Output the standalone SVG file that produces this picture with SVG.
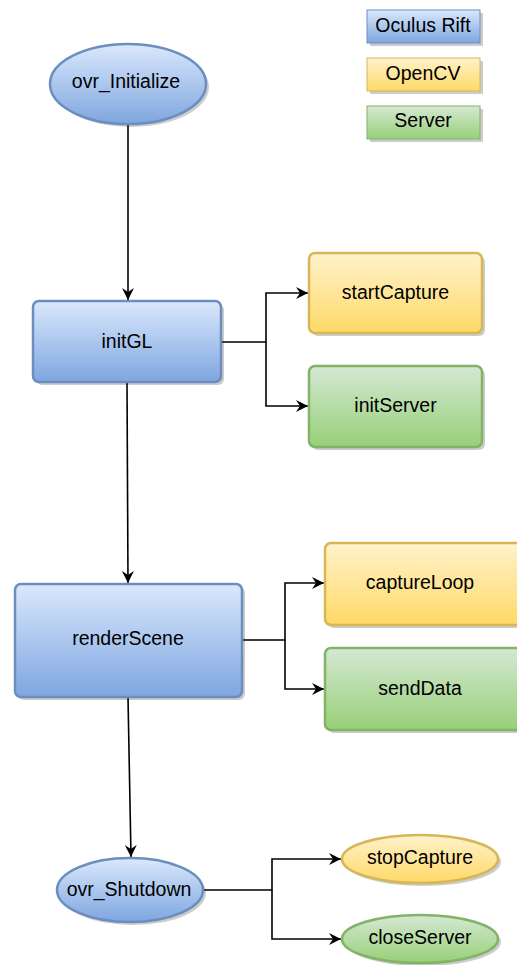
<svg xmlns="http://www.w3.org/2000/svg" width="517" height="965" viewBox="0 0 517 965">
  <defs>
    <linearGradient id="gBlue" x1="0" y1="0" x2="0" y2="1">
      <stop offset="0" stop-color="#dae8fc"/>
      <stop offset="1" stop-color="#7ea6e0"/>
    </linearGradient>
    <linearGradient id="gYellow" x1="0" y1="0" x2="0" y2="1">
      <stop offset="0" stop-color="#fff2cc"/>
      <stop offset="1" stop-color="#ffd966"/>
    </linearGradient>
    <linearGradient id="gGreen" x1="0" y1="0" x2="0" y2="1">
      <stop offset="0" stop-color="#d5e8d4"/>
      <stop offset="1" stop-color="#97d077"/>
    </linearGradient>
    <marker id="arrow" markerUnits="userSpaceOnUse" markerWidth="13" markerHeight="12" refX="12" refY="6" orient="auto" viewBox="0 0 13 12">
      <path d="M0,0 L12,6 L0,12 L4,6 z" fill="#000"/>
    </marker>
  </defs>
  <style>
    .shadow { fill: #000; opacity: 0.2; }
    .blue { fill: url(#gBlue); stroke: #6c8ebf; stroke-width: 2.5; }
    .yellow { fill: url(#gYellow); stroke: #d6b656; stroke-width: 2.5; }
    .green { fill: url(#gGreen); stroke: #82b366; stroke-width: 2.5; }
    .lblue { fill: url(#gBlue); stroke: #6c8ebf; stroke-width: 1; }
    .lyellow { fill: url(#gYellow); stroke: #d6b656; stroke-width: 1; }
    .lgreen { fill: url(#gGreen); stroke: #82b366; stroke-width: 1; }
    .label { font-family: "Liberation Sans", Arial, sans-serif; font-size: 19.5px; fill: #000; text-anchor: middle; dominant-baseline: central; }
    .legend { font-family: "Liberation Sans", Arial, sans-serif; font-size: 19.5px; fill: #000; text-anchor: middle; dominant-baseline: central; }
    .edge { fill: none; stroke: #000; stroke-width: 1.6; }
  </style>

  <!-- legend -->
  <g id="legend-oculus">
    <rect class="shadow" x="370" y="13" width="113" height="33"/>
    <rect class="lblue" x="367" y="10" width="113" height="33"/>
    <text class="legend" x="423" y="25">Oculus Rift</text>
  </g>
  <g id="legend-opencv">
    <rect class="shadow" x="370" y="61" width="113" height="33"/>
    <rect class="lyellow" x="367" y="58" width="113" height="33"/>
    <text class="legend" x="423" y="73">OpenCV</text>
  </g>
  <g id="legend-server">
    <rect class="shadow" x="370" y="109" width="113" height="33"/>
    <rect class="lgreen" x="367" y="106" width="113" height="33"/>
    <text class="legend" x="423" y="120">Server</text>
  </g>

  <!-- connectors -->
  <g id="connectors">
    <path class="edge" d="M128 124 V300" marker-end="url(#arrow)"/>
    <path class="edge" d="M221 342 H266 V293 H308" marker-end="url(#arrow)"/>
    <path class="edge" d="M266 342 V406 H308" marker-end="url(#arrow)"/>
    <path class="edge" d="M127 382 L128 583" marker-end="url(#arrow)"/>
    <path class="edge" d="M242 640 H285 V583 H324" marker-end="url(#arrow)"/>
    <path class="edge" d="M285 640 V689 H324" marker-end="url(#arrow)"/>
    <path class="edge" d="M128 697 L131 857" marker-end="url(#arrow)"/>
    <path class="edge" d="M204 890 H272 V859 H341" marker-end="url(#arrow)"/>
    <path class="edge" d="M272 890 V939 H341" marker-end="url(#arrow)"/>
  </g>

  <!-- nodes -->
  <g id="ovr_Initialize">
    <ellipse class="shadow" cx="131" cy="87" rx="78" ry="40"/>
    <ellipse class="blue" cx="128" cy="84" rx="78" ry="40"/>
    <text class="label" x="126" y="81">ovr_Initialize</text>
  </g>
  <g id="initGL">
    <rect class="shadow" x="36" y="304" width="188" height="81" rx="6"/>
    <rect class="blue" x="33" y="301" width="188" height="81" rx="6"/>
    <text class="label" x="127" y="341">initGL</text>
  </g>
  <g id="startCapture">
    <rect class="shadow" x="312" y="256" width="173" height="80" rx="6"/>
    <rect class="yellow" x="309" y="253" width="173" height="80" rx="6"/>
    <text class="label" x="395.5" y="292">startCapture</text>
  </g>
  <g id="initServer">
    <rect class="shadow" x="312" y="369" width="173" height="81" rx="6"/>
    <rect class="green" x="309" y="366" width="173" height="81" rx="6"/>
    <text class="label" x="395.5" y="405">initServer</text>
  </g>
  <g id="renderScene">
    <rect class="shadow" x="18" y="587" width="227" height="113" rx="6"/>
    <rect class="blue" x="15" y="584" width="227" height="113" rx="6"/>
    <text class="label" x="128" y="638">renderScene</text>
  </g>
  <g id="captureLoop">
    <rect class="shadow" x="328" y="546" width="200" height="82" rx="6"/>
    <rect class="yellow" x="325" y="543" width="200" height="82" rx="6"/>
    <text class="label" x="420" y="582">captureLoop</text>
  </g>
  <g id="sendData">
    <rect class="shadow" x="328" y="651" width="200" height="82" rx="6"/>
    <rect class="green" x="325" y="648" width="200" height="82" rx="6"/>
    <text class="label" x="420" y="688">sendData</text>
  </g>
  <g id="ovr_Shutdown">
    <ellipse class="shadow" cx="133" cy="893" rx="73" ry="32"/>
    <ellipse class="blue" cx="130" cy="890" rx="73" ry="32"/>
    <text class="label" x="129" y="889">ovr_Shutdown</text>
  </g>
  <g id="stopCapture">
    <ellipse class="shadow" cx="423" cy="862" rx="78" ry="24"/>
    <ellipse class="yellow" cx="420" cy="859" rx="78" ry="24"/>
    <text class="label" x="420" y="857">stopCapture</text>
  </g>
  <g id="closeServer">
    <ellipse class="shadow" cx="423" cy="942" rx="78" ry="24"/>
    <ellipse class="green" cx="420" cy="939" rx="78" ry="24"/>
    <text class="label" x="420" y="937">closeServer</text>
  </g>
</svg>
